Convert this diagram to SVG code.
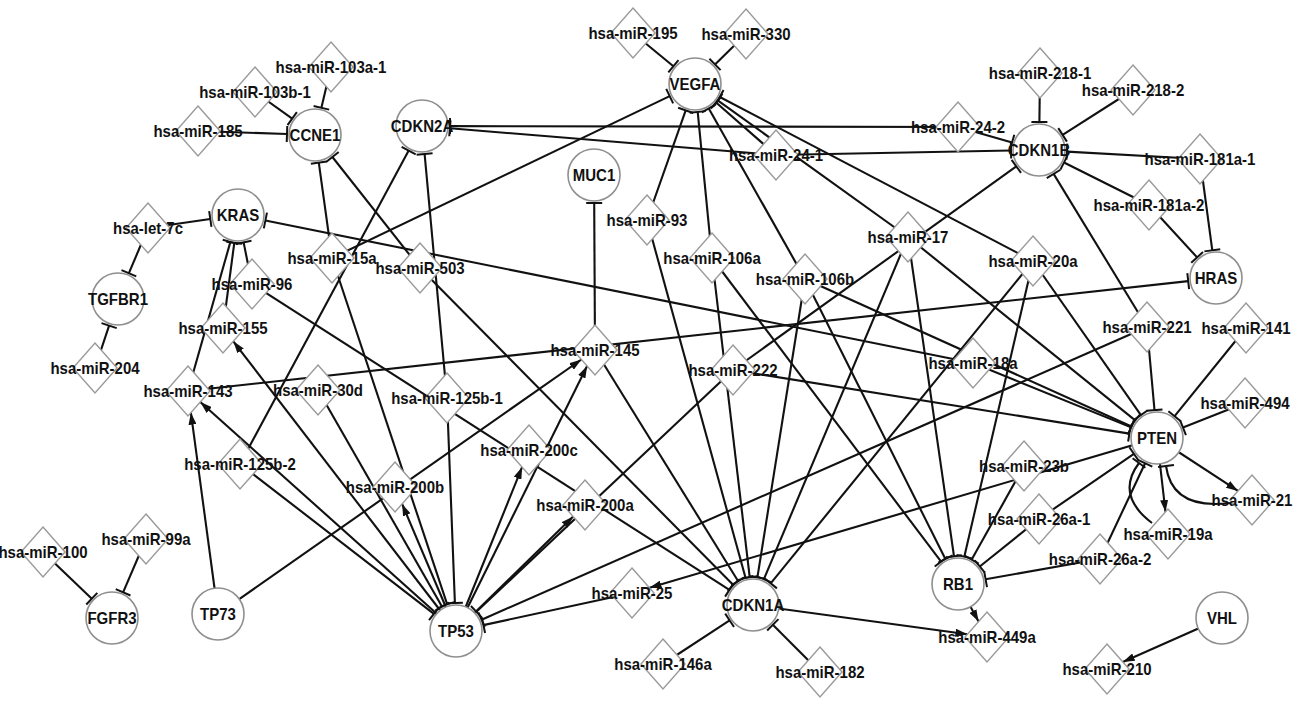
<svg xmlns="http://www.w3.org/2000/svg" xmlns:xlink="http://www.w3.org/1999/xlink" width="1299" height="716" viewBox="0 0 1299 716">
<style>
.e{stroke:#111;stroke-width:2.1;fill:none}
.i{marker-end:url(#bar)}
.a{marker-end:url(#arr)}
.g{fill:#fff;stroke:#8f8f8f;stroke-width:1.6}
.m{fill:#fff;stroke:#9a9a9a;stroke-width:1.4}
text{font-family:"Liberation Sans",Arial,sans-serif;font-weight:bold;font-size:15px;text-anchor:middle;fill:#111;transform-box:fill-box;transform-origin:center;transform:scaleY(1.15)}
</style>
<defs>
<marker id="bar" markerUnits="userSpaceOnUse" viewBox="-2 -9 4 18" refX="0" refY="0" markerWidth="4" markerHeight="18" orient="auto"><path d="M0,-8V8" stroke="#111" stroke-width="2"/></marker>
<marker id="arr" markerUnits="userSpaceOnUse" viewBox="0 0 12 8" refX="12" refY="4" markerWidth="12" markerHeight="8" orient="auto"><path d="M0,0L12,4L0,8Z" fill="#111"/></marker>
<path id="dm" d="M0,-25L22,0L0,25L-22,0Z"/>
</defs>
<rect width="1299" height="716" fill="#fff"/>
<g id="edges" class="e">
<line class="i" x1="331" y1="67" x2="321.4" y2="107.8"/>
<line class="i" x1="255" y1="92" x2="292.2" y2="118.7"/>
<line class="i" x1="198" y1="131" x2="287" y2="134"/>
<line class="i" x1="332" y1="258" x2="318.8" y2="162.7"/>
<line class="i" x1="420" y1="268" x2="332.4" y2="157"/>
<line class="i" x1="240" y1="464" x2="408.7" y2="150.6"/>
<line class="i" x1="447" y1="398" x2="424.6" y2="153.9"/>
<line class="i" x1="958" y1="127" x2="450" y2="126.1"/>
<line class="i" x1="776" y1="155" x2="449.9" y2="128.3"/>
<line class="i" x1="148" y1="228" x2="210.3" y2="219"/>
<line class="i" x1="188" y1="391" x2="230.4" y2="241.9"/>
<line class="i" x1="223" y1="328" x2="234.3" y2="242.8"/>
<line class="i" x1="252" y1="284" x2="243.6" y2="242.4"/>
<line class="i" x1="973" y1="363" x2="265.4" y2="220.5"/>
<line class="i" x1="148" y1="228" x2="128.9" y2="273.2"/>
<line class="i" x1="95" y1="368" x2="109.1" y2="325.6"/>
<line class="i" x1="595" y1="350" x2="594.2" y2="203"/>
<line class="i" x1="633" y1="33" x2="673.4" y2="66.2"/>
<line class="i" x1="746" y1="34" x2="715" y2="64.4"/>
<line class="i" x1="332" y1="258" x2="669.7" y2="96.1"/>
<line class="i" x1="647" y1="220" x2="685.7" y2="110.4"/>
<line class="i" x1="712" y1="258" x2="697.7" y2="111.9"/>
<line class="i" x1="805" y1="279" x2="708.8" y2="108.4"/>
<line class="i" x1="776" y1="155" x2="716.1" y2="102.5"/>
<line class="i" x1="908" y1="237" x2="717.7" y2="100.3"/>
<line class="i" x1="1033" y1="261" x2="719.8" y2="97"/>
<line class="i" x1="1040" y1="73" x2="1039.4" y2="122"/>
<line class="i" x1="1133" y1="90" x2="1062.6" y2="134.9"/>
<line class="i" x1="958" y1="127" x2="1012.1" y2="142.4"/>
<line class="i" x1="776" y1="155" x2="1011" y2="150.5"/>
<line class="i" x1="1200" y1="159" x2="1066.9" y2="151.6"/>
<line class="i" x1="1149" y1="205" x2="1064" y2="162.5"/>
<line class="i" x1="1147" y1="327" x2="1053.6" y2="173.9"/>
<line class="i" x1="733" y1="370" x2="1016.3" y2="166.3"/>
<line class="i" x1="1200" y1="159" x2="1212.3" y2="250.3"/>
<line class="i" x1="1149" y1="205" x2="1197.1" y2="257.4"/>
<line class="i" x1="188" y1="391" x2="1188.2" y2="281.1"/>
<line class="i" x1="1147" y1="327" x2="1154.5" y2="410.1"/>
<line class="i" x1="1246" y1="328" x2="1174.6" y2="416.2"/>
<line class="i" x1="1245" y1="403" x2="1183" y2="427.6"/>
<line class="i" x1="908" y1="237" x2="1135.2" y2="420.4"/>
<line class="i" x1="1033" y1="261" x2="1140.9" y2="415.1"/>
<line class="i" x1="973" y1="363" x2="1131.1" y2="427.4"/>
<line class="i" x1="805" y1="279" x2="1131.5" y2="426.5"/>
<line class="i" x1="733" y1="370" x2="1129.4" y2="433.6"/>
<line class="i" x1="1039" y1="519" x2="1133.9" y2="453.8"/>
<line class="i" x1="1100" y1="559" x2="1145.1" y2="463.3"/>
<path class="i" d="M1152,523Q1115,495 1139,463"/>
<path class="i" d="M1230,503Q1172,510 1166,466"/>
<line class="i" x1="712" y1="258" x2="941.1" y2="561.7"/>
<line class="i" x1="805" y1="279" x2="945.4" y2="559"/>
<line class="i" x1="908" y1="237" x2="954" y2="556.3"/>
<line class="i" x1="1033" y1="261" x2="964.3" y2="556.7"/>
<line class="i" x1="1024" y1="466" x2="971.7" y2="559.6"/>
<line class="i" x1="1039" y1="519" x2="979.8" y2="566.5"/>
<line class="i" x1="1100" y1="559" x2="985.6" y2="579.2"/>
<line class="i" x1="663" y1="664" x2="729.6" y2="620.3"/>
<line class="i" x1="820" y1="672" x2="772.8" y2="624.8"/>
<line class="i" x1="252" y1="284" x2="729.4" y2="589.9"/>
<line class="i" x1="420" y1="268" x2="733.3" y2="585.1"/>
<line class="i" x1="595" y1="350" x2="738.2" y2="581.2"/>
<line class="i" x1="647" y1="220" x2="745.6" y2="578"/>
<line class="i" x1="712" y1="258" x2="749.7" y2="577.2"/>
<line class="i" x1="805" y1="279" x2="757.4" y2="577.4"/>
<line class="i" x1="908" y1="237" x2="763.9" y2="579.2"/>
<line class="i" x1="1033" y1="261" x2="770.7" y2="583.3"/>
<line class="i" x1="447" y1="398" x2="454.9" y2="603"/>
<line class="i" x1="240" y1="464" x2="433.9" y2="613.9"/>
<line class="i" x1="318" y1="390" x2="442.1" y2="606.7"/>
<line class="i" x1="332" y1="258" x2="447.2" y2="604.4"/>
<line class="i" x1="733" y1="370" x2="476.4" y2="611.8"/>
<line class="i" x1="1147" y1="327" x2="481.6" y2="619.7"/>
<line class="i" x1="632" y1="593" x2="483.4" y2="625.1"/>
<line class="i" x1="43" y1="552" x2="91.8" y2="598.7"/>
<line class="i" x1="146" y1="539" x2="123.1" y2="592.3"/>
<line class="a" x1="218" y1="614" x2="190.9" y2="412.7"/>
<line class="a" x1="218" y1="614" x2="581.4" y2="359.5"/>
<line class="a" x1="456" y1="631" x2="200.3" y2="402"/>
<line class="a" x1="456" y1="631" x2="233.3" y2="341.3"/>
<line class="a" x1="456" y1="631" x2="402.1" y2="503.9"/>
<line class="a" x1="456" y1="631" x2="522.1" y2="467.1"/>
<line class="a" x1="456" y1="631" x2="587.1" y2="366"/>
<line class="a" x1="456" y1="631" x2="573.2" y2="516.6"/>
<line class="a" x1="1157" y1="438" x2="1165.5" y2="511.9"/>
<line class="a" x1="1157" y1="438" x2="1238" y2="490.9"/>
<line class="a" x1="1157" y1="438" x2="649.5" y2="587.8"/>
<line class="a" x1="958" y1="584" x2="978.6" y2="621.6"/>
<line class="a" x1="753" y1="605" x2="967.4" y2="634.3"/>
<line class="a" x1="1222" y1="618" x2="1122.8" y2="662"/>
</g>
<g id="n-CCNE1"><circle class="g" cx="315" cy="135" r="26"/><text x="315" y="140">CCNE1</text></g>
<g id="n-CDKN2A"><circle class="g" cx="422" cy="126" r="26"/><text x="422" y="131">CDKN2A</text></g>
<g id="n-KRAS"><circle class="g" cx="238" cy="215" r="26"/><text x="238" y="220">KRAS</text></g>
<g id="n-TGFBR1"><circle class="g" cx="118" cy="299" r="26"/><text x="118" y="304">TGFBR1</text></g>
<g id="n-MUC1"><circle class="g" cx="594" cy="175" r="26"/><text x="594" y="180">MUC1</text></g>
<g id="n-VEGFA"><circle class="g" cx="695" cy="84" r="26"/><text x="695" y="89">VEGFA</text></g>
<g id="n-CDKN1B"><circle class="g" cx="1039" cy="150" r="26"/><text x="1039" y="155">CDKN1B</text></g>
<g id="n-HRAS"><circle class="g" cx="1216" cy="278" r="26"/><text x="1216" y="283">HRAS</text></g>
<g id="n-PTEN"><circle class="g" cx="1157" cy="438" r="26"/><text x="1157" y="443">PTEN</text></g>
<g id="n-RB1"><circle class="g" cx="958" cy="584" r="26"/><text x="958" y="589">RB1</text></g>
<g id="n-VHL"><circle class="g" cx="1222" cy="618" r="26"/><text x="1222" y="623">VHL</text></g>
<g id="n-CDKN1A"><circle class="g" cx="753" cy="605" r="26"/><text x="753" y="610">CDKN1A</text></g>
<g id="n-TP53"><circle class="g" cx="456" cy="631" r="26"/><text x="456" y="636">TP53</text></g>
<g id="n-TP73"><circle class="g" cx="218" cy="614" r="26"/><text x="218" y="619">TP73</text></g>
<g id="n-FGFR3"><circle class="g" cx="112" cy="618" r="26"/><text x="112" y="623">FGFR3</text></g>
<g id="n-miR-103a-1"><use class="m" xlink:href="#dm" x="331" y="67"/><text x="331" y="72">hsa-miR-103a-1</text></g>
<g id="n-miR-103b-1"><use class="m" xlink:href="#dm" x="255" y="92"/><text x="255" y="97">hsa-miR-103b-1</text></g>
<g id="n-miR-185"><use class="m" xlink:href="#dm" x="198" y="131"/><text x="198" y="136">hsa-miR-185</text></g>
<g id="n-let-7c"><use class="m" xlink:href="#dm" x="148" y="228"/><text x="148" y="233">hsa-let-7c</text></g>
<g id="n-miR-204"><use class="m" xlink:href="#dm" x="95" y="368"/><text x="95" y="373">hsa-miR-204</text></g>
<g id="n-miR-96"><use class="m" xlink:href="#dm" x="252" y="284"/><text x="252" y="289">hsa-miR-96</text></g>
<g id="n-miR-155"><use class="m" xlink:href="#dm" x="223" y="328"/><text x="223" y="333">hsa-miR-155</text></g>
<g id="n-miR-143"><use class="m" xlink:href="#dm" x="188" y="391"/><text x="188" y="396">hsa-miR-143</text></g>
<g id="n-miR-30d"><use class="m" xlink:href="#dm" x="318" y="390"/><text x="318" y="395">hsa-miR-30d</text></g>
<g id="n-miR-15a"><use class="m" xlink:href="#dm" x="332" y="258"/><text x="332" y="263">hsa-miR-15a</text></g>
<g id="n-miR-503"><use class="m" xlink:href="#dm" x="420" y="268"/><text x="420" y="273">hsa-miR-503</text></g>
<g id="n-miR-125b-2"><use class="m" xlink:href="#dm" x="240" y="464"/><text x="240" y="469">hsa-miR-125b-2</text></g>
<g id="n-miR-125b-1"><use class="m" xlink:href="#dm" x="447" y="398"/><text x="447" y="403">hsa-miR-125b-1</text></g>
<g id="n-miR-200b"><use class="m" xlink:href="#dm" x="395" y="487"/><text x="395" y="492">hsa-miR-200b</text></g>
<g id="n-miR-200c"><use class="m" xlink:href="#dm" x="529" y="450"/><text x="529" y="455">hsa-miR-200c</text></g>
<g id="n-miR-200a"><use class="m" xlink:href="#dm" x="585" y="505"/><text x="585" y="510">hsa-miR-200a</text></g>
<g id="n-miR-145"><use class="m" xlink:href="#dm" x="595" y="350"/><text x="595" y="355">hsa-miR-145</text></g>
<g id="n-miR-93"><use class="m" xlink:href="#dm" x="647" y="220"/><text x="647" y="225">hsa-miR-93</text></g>
<g id="n-miR-106a"><use class="m" xlink:href="#dm" x="712" y="258"/><text x="712" y="263">hsa-miR-106a</text></g>
<g id="n-miR-106b"><use class="m" xlink:href="#dm" x="805" y="279"/><text x="805" y="284">hsa-miR-106b</text></g>
<g id="n-miR-222"><use class="m" xlink:href="#dm" x="733" y="370"/><text x="733" y="375">hsa-miR-222</text></g>
<g id="n-miR-17"><use class="m" xlink:href="#dm" x="908" y="237"/><text x="908" y="242">hsa-miR-17</text></g>
<g id="n-miR-20a"><use class="m" xlink:href="#dm" x="1033" y="261"/><text x="1033" y="266">hsa-miR-20a</text></g>
<g id="n-miR-18a"><use class="m" xlink:href="#dm" x="973" y="363"/><text x="973" y="368">hsa-miR-18a</text></g>
<g id="n-miR-195"><use class="m" xlink:href="#dm" x="633" y="33"/><text x="633" y="38">hsa-miR-195</text></g>
<g id="n-miR-330"><use class="m" xlink:href="#dm" x="746" y="34"/><text x="746" y="39">hsa-miR-330</text></g>
<g id="n-miR-24-1"><use class="m" xlink:href="#dm" x="776" y="155"/><text x="776" y="160">hsa-miR-24-1</text></g>
<g id="n-miR-24-2"><use class="m" xlink:href="#dm" x="958" y="127"/><text x="958" y="132">hsa-miR-24-2</text></g>
<g id="n-miR-218-1"><use class="m" xlink:href="#dm" x="1040" y="73"/><text x="1040" y="78">hsa-miR-218-1</text></g>
<g id="n-miR-218-2"><use class="m" xlink:href="#dm" x="1133" y="90"/><text x="1133" y="95">hsa-miR-218-2</text></g>
<g id="n-miR-181a-1"><use class="m" xlink:href="#dm" x="1200" y="159"/><text x="1200" y="164">hsa-miR-181a-1</text></g>
<g id="n-miR-181a-2"><use class="m" xlink:href="#dm" x="1149" y="205"/><text x="1149" y="210">hsa-miR-181a-2</text></g>
<g id="n-miR-221"><use class="m" xlink:href="#dm" x="1147" y="327"/><text x="1147" y="332">hsa-miR-221</text></g>
<g id="n-miR-141"><use class="m" xlink:href="#dm" x="1246" y="328"/><text x="1246" y="333">hsa-miR-141</text></g>
<g id="n-miR-494"><use class="m" xlink:href="#dm" x="1245" y="403"/><text x="1245" y="408">hsa-miR-494</text></g>
<g id="n-miR-23b"><use class="m" xlink:href="#dm" x="1024" y="466"/><text x="1024" y="471">hsa-miR-23b</text></g>
<g id="n-miR-26a-1"><use class="m" xlink:href="#dm" x="1039" y="519"/><text x="1039" y="524">hsa-miR-26a-1</text></g>
<g id="n-miR-26a-2"><use class="m" xlink:href="#dm" x="1100" y="559"/><text x="1100" y="564">hsa-miR-26a-2</text></g>
<g id="n-miR-19a"><use class="m" xlink:href="#dm" x="1168" y="534"/><text x="1168" y="539">hsa-miR-19a</text></g>
<g id="n-miR-21"><use class="m" xlink:href="#dm" x="1252" y="500"/><text x="1252" y="505">hsa-miR-21</text></g>
<g id="n-miR-449a"><use class="m" xlink:href="#dm" x="987" y="637"/><text x="987" y="642">hsa-miR-449a</text></g>
<g id="n-miR-210"><use class="m" xlink:href="#dm" x="1107" y="669"/><text x="1107" y="674">hsa-miR-210</text></g>
<g id="n-miR-25"><use class="m" xlink:href="#dm" x="632" y="593"/><text x="632" y="598">hsa-miR-25</text></g>
<g id="n-miR-146a"><use class="m" xlink:href="#dm" x="663" y="664"/><text x="663" y="669">hsa-miR-146a</text></g>
<g id="n-miR-182"><use class="m" xlink:href="#dm" x="820" y="672"/><text x="820" y="677">hsa-miR-182</text></g>
<g id="n-miR-100"><use class="m" xlink:href="#dm" x="43" y="552"/><text x="43" y="557">hsa-miR-100</text></g>
<g id="n-miR-99a"><use class="m" xlink:href="#dm" x="146" y="539"/><text x="146" y="544">hsa-miR-99a</text></g>
</svg>
